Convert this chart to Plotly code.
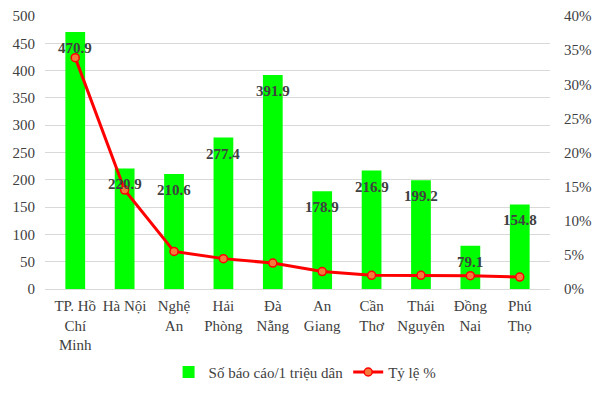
import plotly.graph_objects as go

categories = ["TP. Hồ<br>Chí<br>Minh", "Hà Nội", "Nghệ<br>An", "Hải<br>Phòng", "Đà<br>Nẵng",
              "An<br>Giang", "Cần<br>Thơ", "Thái<br>Nguyên", "Đồng<br>Nai", "Phú<br>Thọ"]
reports_per_million = [470.9, 220.9, 210.6, 277.4, 391.9, 178.9, 216.9, 199.2, 79.1, 154.8]
rate_pct = [33.9, 14.5, 5.5, 4.45, 3.8, 2.55, 2.0, 2.0, 1.95, 1.75]
left_ticks = list(range(0, 501, 50))
right_ticks = list(range(0, 41, 5))

FONT = "Liberation Serif"
TXT = "#404040"
FS = 15

fig = go.Figure()
fig.add_trace(go.Bar(
    x=categories, y=reports_per_million, name="Số báo cáo/1 triệu dân",
    marker=dict(color="#00ff00", line=dict(width=0)), width=0.4,
))
fig.add_trace(go.Scatter(
    x=categories, y=rate_pct, name="Tỷ lệ %", yaxis="y2",
    mode="lines+markers",
    line=dict(color="#ff0000", width=3),
    marker=dict(color="#f4793b", size=8, line=dict(color="#ff0000", width=1.5)),
))

for c, v in zip(categories, reports_per_million):
    fig.add_annotation(x=c, y=v, text=f"<b>{v}</b>", showarrow=False,
                       yanchor="top", yshift=-6,
                       font=dict(family=FONT, size=FS, color=TXT))

# page body has an 8px default margin, so the figure is 8px smaller and margins compensate
fig.update_layout(
    width=592, height=385,
    margin=dict(l=37, r=50, t=8, b=104, autoexpand=False),
    plot_bgcolor="white", paper_bgcolor="white",
    font=dict(family=FONT, size=FS, color=TXT),
    bargap=0.6,
    showlegend=True,
    legend=dict(orientation="h", x=0.515, xanchor="center", y=-0.305, yanchor="middle",
                font=dict(family=FONT, size=FS, color=TXT), itemwidth=30),
    xaxis=dict(showgrid=False, showline=True, linecolor="#d9d9d9", linewidth=1,
               automargin=False, ticklabelstandoff=3,
               tickfont=dict(family=FONT, size=FS, color=TXT), ticks=""),
    yaxis=dict(range=[0, 500], tickvals=left_ticks, showgrid=True, gridcolor="#d9d9d9",
               gridwidth=1, zeroline=False, showline=False, ticks="",
               ticklabelstandoff=9, automargin=False,
               tickfont=dict(family=FONT, size=FS, color=TXT)),
    yaxis2=dict(range=[0, 40], tickvals=right_ticks, ticktext=[f"{t}%" for t in right_ticks],
                overlaying="y", side="right", showgrid=False, zeroline=False,
                showline=False, ticks="", ticklabelstandoff=13, automargin=False,
                tickfont=dict(family=FONT, size=FS, color=TXT)),
)

fig.write_html("out.html")
